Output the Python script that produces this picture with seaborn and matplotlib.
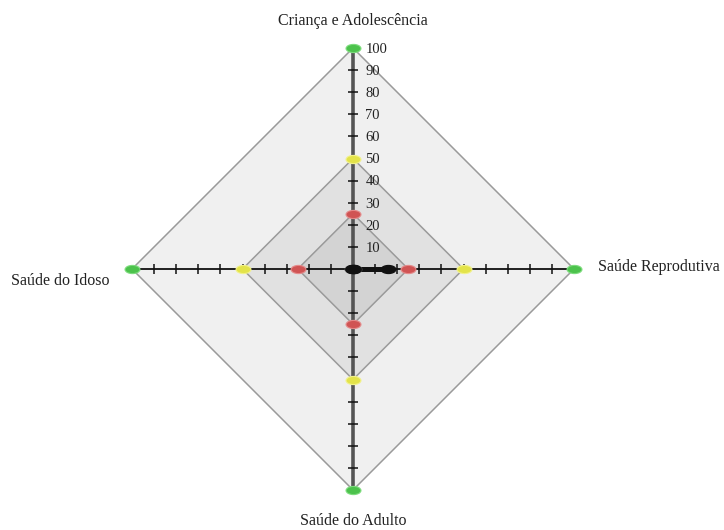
import numpy as np
import pandas as pd
import matplotlib
matplotlib.use("Agg")
import matplotlib.pyplot as plt
from matplotlib.path import Path
from matplotlib.transforms import Affine2D
import seaborn as sns

categories = ["Criança e Adolescência", "Saúde Reprodutiva", "Saúde do Adulto", "Saúde do Idoso"]
series_names = ["Verde", "Amarelo", "Vermelho", "Preto"]
green_vals = [100, 100, 100, 100]
yellow_vals = [50, 50, 50, 50]
red_vals = [25, 25, 25, 25]
black_vals = [0, 16, 0, 0]
tick_values = [10, 20, 30, 40, 50, 60, 70, 80, 90, 100]
tick_labels = ["10", "20", "30", "40", "50", "60", "70", "80", "90", "100"]

sns.set_style("white")
plt.rcParams["font.family"] = ["Liberation Serif", "DejaVu Serif"]

W, H = 724, 530
fig = plt.figure(figsize=(W / 100, H / 100), dpi=100)
cx, cy, R = 353, 269, 221
ax = fig.add_axes([(cx - R) / W, (H - cy - R) / H, 2 * R / W, 2 * R / H], projection="polar")
ax.set_theta_zero_location("N")
ax.set_theta_direction(-1)
ax.set_ylim(0, 100)
ax.grid(False)
ax.set_xticks([])
ax.set_yticks([])
ax.spines["polar"].set_visible(False)
ax.patch.set_alpha(0)

n = len(categories)
theta = np.arange(n) * 2 * np.pi / n

ellipse = Path.unit_circle().transformed(Affine2D().scale(1.0, 0.55))

def closed(vals):
    return np.append(theta, theta[0]), np.append(vals, vals[0])

# fills and outlines
for vals in [green_vals, yellow_vals, red_vals]:
    t, r = closed(np.array(vals, float))
    ax.fill(t, r, color="black", alpha=0.058, lw=0, zorder=1, clip_on=False)
    df = pd.DataFrame({"t": t, "r": r})
    sns.lineplot(data=df, x="t", y="r", sort=False, estimator=None, color="#9a9a9a",
                 lw=1.1, ax=ax, zorder=2, clip_on=False)

# spokes
for k, th in enumerate(theta):
    vertical = k % 2 == 0
    ax.plot([th, th], [0, 100], color="#555555" if vertical else "#111111",
            lw=2.6 if vertical else 1.3, zorder=3, solid_capstyle="butt", clip_on=False)
    ax.plot([th] * 9, tick_values[:-1], ls="none", marker="_" if vertical else "|",
            ms=7, mew=1.1, color="#111111", zorder=4, clip_on=False)

# tick labels on top axis
for v, lab in zip(tick_values, tick_labels):
    ax.annotate(lab, xy=(0, v), xytext=(9, -1), textcoords="offset points",
                ha="left", va="center", fontsize=10.5, color="#222222", zorder=6,
                annotation_clip=False)

# black series line
t, r = closed(np.array(black_vals, float))
df_b = pd.DataFrame({"t": t, "r": r})
sns.lineplot(data=df_b, x="t", y="r", sort=False, estimator=None, color="#111111",
             lw=3.5, ax=ax, zorder=5)
ax.scatter([0], [0], s=170, marker=ellipse, color="#555555", alpha=0.8, zorder=5, lw=0)

# markers
colors = ["#4cc24c", "#e3e34a", "#d05454", "#111111"]
edge = ["#7ddc7d", "#f2f28a", "#e58a8a", "#111111"]
for vals, c, e, name in zip([green_vals, yellow_vals, red_vals, black_vals], colors, edge, series_names):
    df = pd.DataFrame({"t": theta, "r": vals})
    sns.scatterplot(data=df, x="t", y="r", marker=ellipse, s=115, color=c,
                    edgecolor=e, linewidth=0.8, ax=ax, zorder=7, legend=False, clip_on=False)

ax.set_xlabel("")
ax.set_ylabel("")

# category labels
fs = 11.5
fig.text(cx / W, 1 - 21 / H, categories[0], ha="center", va="center", fontsize=fs, color="#222222")
fig.text(598 / W, 1 - 267 / H, categories[1], ha="left", va="center", fontsize=fs, color="#222222")
fig.text(cx / W, 1 - 521 / H, categories[2], ha="center", va="center", fontsize=fs, color="#222222")
fig.text(60 / W, 1 - 281 / H, categories[3], ha="center", va="center", fontsize=fs, color="#222222")

fig.savefig("out.png", dpi=100)
